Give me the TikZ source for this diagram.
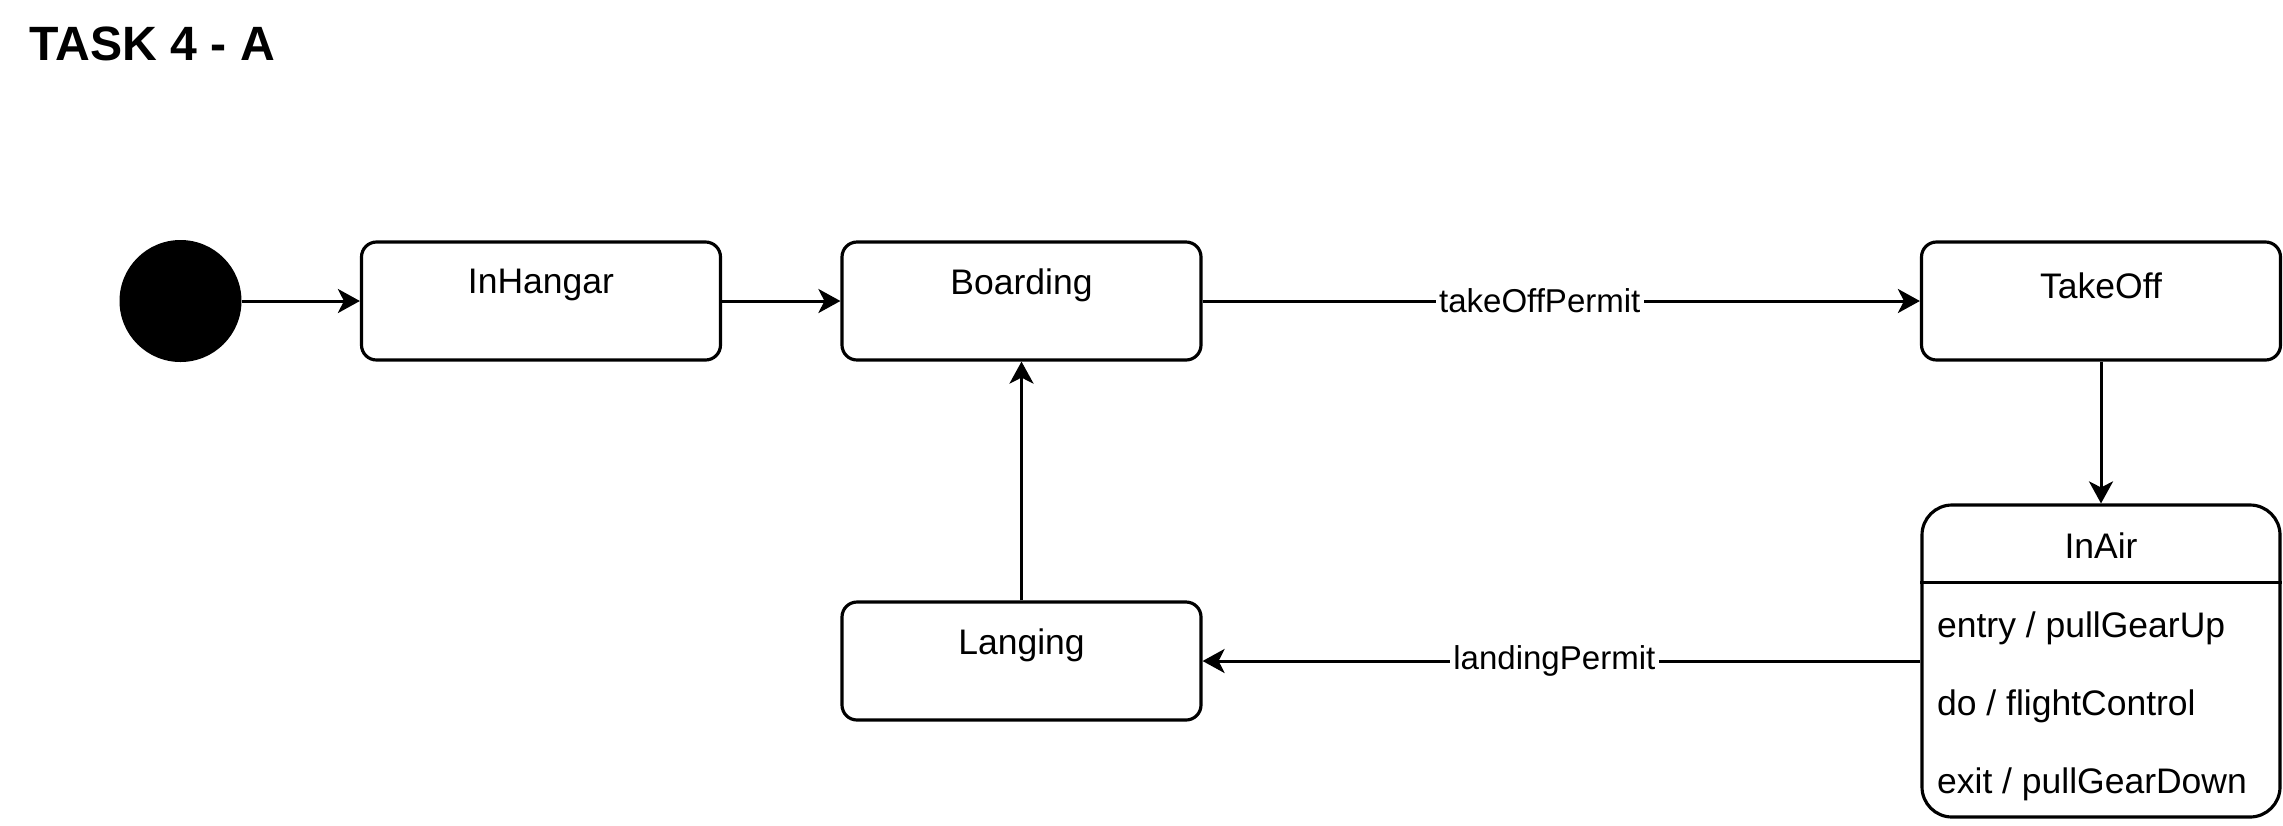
\documentclass[tikz,border=0pt]{standalone}
\usepackage{fontspec}
\setmainfont{Liberation Sans}
\usetikzlibrary{arrows.meta}
\tikzset{
  statebox/.style={draw=black, line width=0.9pt, rounded corners=0.15cm, minimum width=3.59cm, minimum height=1.18cm, inner sep=0pt},
  statetxt/.style={font=\fontsize{10.1}{12}\selectfont, inner sep=0pt},
  flow/.style={draw=black, line width=0.85pt, -{Stealth[length=0.22cm, width=0.24cm, inset=0.06cm]}},
  elabel/.style={fill=white, font=\fontsize{9.4}{11}\selectfont, inner sep=1pt}
}
\begin{document}
\begin{tikzpicture}
\useasboundingbox (0,0) rectangle (22.83,-8.25);
\node[anchor=west, font=\fontsize{13.7}{16}\selectfont\bfseries, inner sep=0pt] (title) at (0.29,-0.44) {TASK 4 - A};

\node[circle, fill=black, minimum size=1.22cm, inner sep=0pt] (init) at (1.805,-3.01) {};
\node[statebox] (inh) at (5.41,-3.01) {};
\node[statebox] (brd) at (10.215,-3.01) {};
\node[statebox] (tko) at (21.01,-3.01) {};
\node[statebox] (lng) at (10.215,-6.61) {};
\node[draw=black, line width=0.9pt, rounded corners=0.3cm, minimum width=3.58cm, minimum height=3.12cm, inner sep=0pt] (air) at (21.01,-6.61) {};

\node[statetxt] (inhT) at ([yshift=-0.45cm]inh.north) {InHangar};
\node[statetxt] (brdT) at ([yshift=-0.45cm]brd.north) {Boarding};
\node[statetxt] (tkoT) at ([yshift=-0.45cm]tko.north) {TakeOff};
\node[statetxt] (lngT) at ([yshift=-0.45cm]lng.north) {Langing};
\node[statetxt] (airT) at ([yshift=-0.42cm]air.north) {InAir};
\draw[line width=0.9pt] ([yshift=-0.79cm]air.north west) -- ([yshift=-0.79cm]air.north east);
\node[statetxt, anchor=west] (a1) at ([xshift=0.16cm, yshift=-1.25cm]air.north west) {entry / pullGearUp};
\node[statetxt, anchor=west] (a2) at ([xshift=0.16cm, yshift=-2.03cm]air.north west) {do / flightControl};
\node[statetxt, anchor=west] (a3) at ([xshift=0.16cm, yshift=-2.81cm]air.north west) {exit / pullGearDown};

\draw[flow] (init) -- (inh);
\draw[flow] (inh) -- (brd);
\draw[flow] (brd) -- node[elabel, pos=0.47] (l1) {takeOffPermit} (tko);
\draw[flow] (tko) -- (air);
\draw[flow] (air.west |- lng.east) -- node[elabel, pos=0.51] (l2) {landingPermit} (lng.east);
\draw[flow] (lng) -- (brd);
\end{tikzpicture}
\end{document}
